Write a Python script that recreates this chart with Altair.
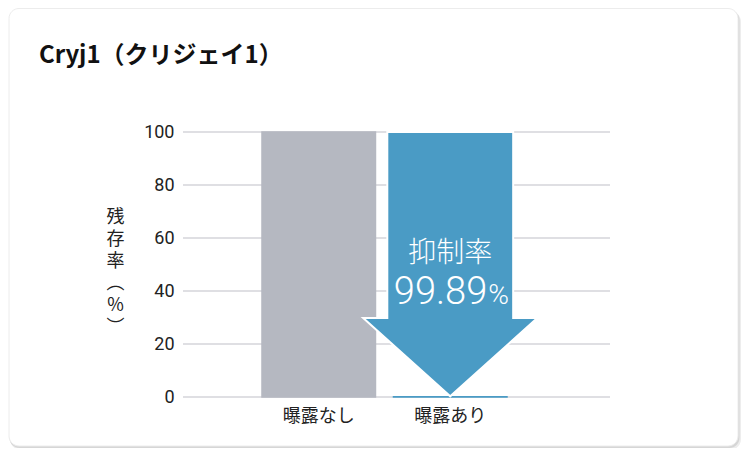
import altair as alt
import pandas as pd

# ---- data ----
categories = ["曝露なし", "曝露あり"]
residual = [100, 0.11]
bar_colors = ["#b5b8c1", "#4a9bc5"]
y_ticks = [0, 20, 40, 60, 80, 100]
title_text = "Cryj1（クリジェイ1）"
y_title_lines = ["残", "存", "率", "︵", "%", "︶"]
rate_label = "抑制率"
rate_value = "99.89"
rate_unit = "%"

bars_df = pd.DataFrame({"cat": categories, "val": residual})
grid_df = pd.DataFrame({"val": y_ticks})
arrow_df = pd.DataFrame({"cat": [categories[1]]})
card_df = alt.Data(values=[{}])

ARROW = "#4a9bc5"
CJK = "Noto Sans CJK JP"

x_scale = alt.Scale(domain=categories, paddingInner=0.137, paddingOuter=0.692, align=0.434)
x_enc = alt.X(
    "cat:N", sort=categories, scale=x_scale,
    axis=alt.Axis(title=None, labelAngle=0, domain=False, ticks=False, grid=False,
                  labelFont=CJK, labelFontSize=18, labelColor="#222", labelPadding=10,
                  zindex=1),
)
y_enc = alt.Y(
    "val:Q", scale=alt.Scale(domain=[0, 100], nice=False),
    axis=alt.Axis(values=y_ticks, grid=False, domain=False, ticks=False,
                  labelPadding=9, labelFont="Roboto", labelFontSize=18, labelColor="#222",
                  title=y_title_lines, titleAngle=0, titleX=-68, titleY=76,
                  titleBaseline="top", titleAlign="center", titleFont=CJK,
                  titleFontSize=18, titleFontWeight="normal", titleLineHeight=22,
                  titleColor="#222", zindex=1),
)

shadow2 = alt.Chart(card_df).mark_rect(fill="#ededed", cornerRadius=11).encode(
    x=alt.value(-173), x2=alt.value(558), y=alt.value(-121), y2=alt.value(318))
shadow1 = alt.Chart(card_df).mark_rect(fill="#d6d6d6", cornerRadius=10).encode(
    x=alt.value(-173.5), x2=alt.value(556.5), y=alt.value(-122), y2=alt.value(316))
card = alt.Chart(card_df).mark_rect(fill="white", stroke="#ececec", strokeWidth=1,
                                    cornerRadius=10).encode(
    x=alt.value(-174), x2=alt.value(555), y=alt.value(-123.5), y2=alt.value(314))

title = alt.Chart(card_df).mark_text(
    text=title_text, font=CJK, fontSize=24, fontWeight="bold", color="#111",
    align="left", baseline="alphabetic",
).encode(x=alt.value(-144), y=alt.value(-69))

grid = alt.Chart(grid_df).mark_rule(color="#d4d4da", strokeWidth=1.5).encode(y=y_enc)

bars = alt.Chart(bars_df).mark_bar(strokeWidth=1.5).encode(
    x=x_enc, y=y_enc,
    color=alt.Color("cat:N", scale=alt.Scale(domain=categories, range=bar_colors), legend=None),
    stroke=alt.Stroke("cat:N", scale=alt.Scale(domain=categories, range=bar_colors), legend=None),
)

arrow_path = ("M-0.475,-1L0.475,-1L0.475,0.404L0.657,0.404L0,0.995"
              "L-0.657,0.404L-0.475,0.404Z")
arrow = alt.Chart(arrow_df).mark_point(
    shape=arrow_path, size=70225, filled=True, fill=ARROW, stroke="white",
    strokeWidth=2, opacity=1,
).encode(x=x_enc, y=alt.datum(50))

lbl1 = alt.Chart(arrow_df).mark_text(
    text=rate_label, font=CJK, fontSize=28, fontWeight=300, color="white",
    baseline="middle", align="center",
).encode(x=x_enc, y=alt.datum(54))
lbl2 = alt.Chart(arrow_df).mark_text(
    text=rate_value, font="Roboto", fontSize=38, fontWeight=300, color="white",
    baseline="alphabetic", align="right", dx=37,
).encode(x=x_enc, y=alt.datum(35))
lbl3 = alt.Chart(arrow_df).mark_text(
    text=rate_unit, font="Roboto", fontSize=28, fontWeight=300, color="white",
    baseline="alphabetic", align="left", dx=38,
).encode(x=x_enc, y=alt.datum(35))

chart = alt.layer(shadow2, shadow1, card, title, grid, bars, arrow, lbl1, lbl2, lbl3).properties(
    width=427, height=265,
    padding={"left": 175, "top": 124, "right": 133, "bottom": 51},
    autosize=alt.AutoSizeParams(type="none"),
).configure(background="white").configure_view(stroke=None)

chart.save("out.html", embed_options={"renderer": "svg", "actions": False})
